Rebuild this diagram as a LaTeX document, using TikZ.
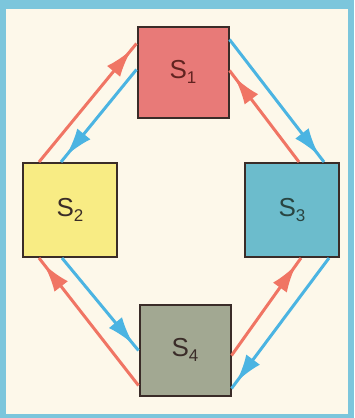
\documentclass[tikz,border=0pt]{standalone}
\usepackage{fontspec}
\setmainfont{Liberation Sans}
\usetikzlibrary{arrows.meta,decorations.markings,calc}
\definecolor{frameblue}{HTML}{7CC6DC}
\definecolor{cream}{HTML}{FDF8EA}
\definecolor{arrred}{HTML}{F07564}
\definecolor{arrblue}{HTML}{4BB4E2}
\definecolor{fillA}{HTML}{E87A78}
\definecolor{fillB}{HTML}{F8EC84}
\definecolor{fillC}{HTML}{6CBCCC}
\definecolor{fillD}{HTML}{A2A892}
\definecolor{edge}{HTML}{3A2C28}
\newcommand{\slabel}[1]{S\raisebox{-5pt}{\fontsize{17}{17}\selectfont #1}}
\tikzset{
  sbox/.style={draw=edge, line width=2pt, minimum width=#1, minimum height=#1, inner sep=0pt, font=\fontsize{26}{28}\selectfont},
  flow/.style={line width=3pt, postaction={decorate}, decoration={markings, mark=at position -8pt with {\arrow{Latex[length=28pt,width=17pt]}}}},
  redflow/.style={flow, color=arrred},
  blueflow/.style={flow, color=arrblue}
}
\begin{document}
\begin{tikzpicture}[x=1pt,y=-1pt]
\fill[frameblue] (0,0) rectangle (354,418);
\fill[cream] (6,9) rectangle (348,414);
\useasboundingbox (0,0) rectangle (354,418);

\node[sbox=91pt, fill=fillA, text=edge!80!red] (s1) at (183,72) {\slabel{1}};
\node[sbox=94pt, fill=fillB, text=edge] (s2) at (70,210) {\slabel{2}};
\node[sbox=94pt, fill=fillC, text=edge!70!teal] (s3) at (292,210) {\slabel{3}};
\node[sbox=91pt, fill=fillD, text=edge] (s4) at (185,350) {\slabel{4}};

% S2 <-> S1
\draw[redflow]  ($(s2.north west)+(17,0)$) -- ($(s1.north west)+(0,18)$);
\draw[blueflow] ($(s1.north west)+(0,44)$) -- ($(s2.north west)+(39,0)$);
% S1 <-> S3
\draw[blueflow] ($(s1.north east)+(0,14)$) -- ($(s3.north west)+(80,0)$);
\draw[redflow]  ($(s3.north west)+(55,0)$) -- ($(s1.north east)+(0,45)$);
% S2 <-> S4
\draw[blueflow] ($(s2.south west)+(40,0)$) -- ($(s4.north west)+(0,47)$);
\draw[redflow]  ($(s4.north west)+(0,82)$) -- ($(s2.south west)+(17,0)$);
% S4 <-> S3
\draw[redflow]  ($(s4.north east)+(0,52)$) -- ($(s3.south west)+(57,0)$);
\draw[blueflow] ($(s3.south west)+(85,0)$) -- ($(s4.north east)+(0,85)$);
\end{tikzpicture}
\end{document}
